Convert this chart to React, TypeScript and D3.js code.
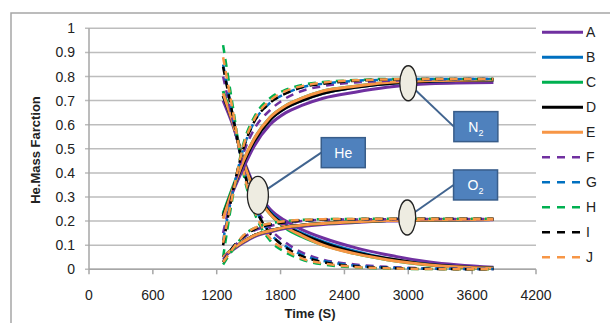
import React from 'react';
import * as d3 from 'd3';

const times = [1260, 1350, 1450, 1550, 1700, 1850, 2000, 2200, 2500, 2800, 3200, 3800];

const seriesNames = ['A', 'B', 'C', 'D', 'E', 'F', 'G', 'H', 'I', 'J'];
const seriesColors = ['#7030A0', '#0070C0', '#00B050', '#000000', '#F79646', '#7030A0', '#0070C0', '#00B050', '#000000', '#F79646'];
const seriesDashed = [false, false, false, false, false, true, true, true, true, true];

// He mass fraction, one row per series A..J
const heFraction = [
  [0.70, 0.60, 0.46, 0.35, 0.25, 0.20, 0.165, 0.13, 0.09, 0.06, 0.03, 0.008],
  [0.72, 0.61, 0.45, 0.34, 0.24, 0.185, 0.15, 0.115, 0.075, 0.045, 0.02, 0.005],
  [0.74, 0.62, 0.45, 0.33, 0.23, 0.17, 0.135, 0.10, 0.065, 0.04, 0.017, 0.004],
  [0.72, 0.61, 0.45, 0.34, 0.235, 0.18, 0.145, 0.11, 0.07, 0.045, 0.02, 0.005],
  [0.73, 0.61, 0.45, 0.33, 0.23, 0.175, 0.14, 0.10, 0.065, 0.04, 0.018, 0.004],
  [0.80, 0.62, 0.42, 0.28, 0.17, 0.11, 0.07, 0.04, 0.02, 0.01, 0.004, 0.001],
  [0.85, 0.64, 0.42, 0.27, 0.15, 0.095, 0.06, 0.035, 0.015, 0.007, 0.003, 0.001],
  [0.93, 0.68, 0.40, 0.24, 0.12, 0.07, 0.04, 0.02, 0.008, 0.003, 0.001, 0],
  [0.84, 0.64, 0.42, 0.27, 0.15, 0.09, 0.055, 0.03, 0.013, 0.006, 0.002, 0],
  [0.88, 0.66, 0.41, 0.25, 0.13, 0.08, 0.045, 0.025, 0.01, 0.004, 0.001, 0],
];

const n2Fraction = [
  [0.22, 0.32, 0.42, 0.51, 0.60, 0.65, 0.68, 0.71, 0.735, 0.755, 0.77, 0.775],
  [0.23, 0.33, 0.44, 0.53, 0.62, 0.67, 0.70, 0.73, 0.755, 0.77, 0.78, 0.785],
  [0.23, 0.34, 0.45, 0.54, 0.63, 0.68, 0.71, 0.74, 0.76, 0.775, 0.783, 0.787],
  [0.22, 0.33, 0.44, 0.53, 0.62, 0.67, 0.70, 0.73, 0.755, 0.77, 0.78, 0.785],
  [0.21, 0.33, 0.45, 0.54, 0.63, 0.68, 0.71, 0.74, 0.76, 0.775, 0.783, 0.787],
  [0.15, 0.32, 0.48, 0.58, 0.66, 0.71, 0.74, 0.76, 0.775, 0.782, 0.787, 0.79],
  [0.12, 0.32, 0.50, 0.61, 0.69, 0.73, 0.755, 0.77, 0.782, 0.787, 0.79, 0.79],
  [0.05, 0.30, 0.52, 0.63, 0.71, 0.745, 0.765, 0.777, 0.785, 0.79, 0.79, 0.79],
  [0.10, 0.32, 0.50, 0.61, 0.69, 0.73, 0.755, 0.77, 0.782, 0.787, 0.79, 0.79],
  [0.11, 0.31, 0.51, 0.62, 0.70, 0.74, 0.76, 0.775, 0.784, 0.788, 0.79, 0.79],
];

const o2Fraction = [
  [0.05, 0.08, 0.11, 0.135, 0.155, 0.17, 0.178, 0.186, 0.194, 0.2, 0.204, 0.206],
  [0.05, 0.085, 0.115, 0.14, 0.16, 0.175, 0.183, 0.19, 0.197, 0.202, 0.205, 0.207],
  [0.05, 0.085, 0.115, 0.14, 0.16, 0.175, 0.183, 0.19, 0.197, 0.202, 0.205, 0.207],
  [0.05, 0.085, 0.115, 0.14, 0.16, 0.175, 0.183, 0.19, 0.197, 0.202, 0.205, 0.207],
  [0.05, 0.085, 0.115, 0.14, 0.16, 0.175, 0.183, 0.19, 0.197, 0.202, 0.205, 0.207],
  [0.04, 0.09, 0.13, 0.16, 0.18, 0.19, 0.2, 0.205, 0.207, 0.208, 0.209, 0.209],
  [0.03, 0.09, 0.135, 0.165, 0.185, 0.195, 0.203, 0.206, 0.208, 0.209, 0.21, 0.21],
  [0.02, 0.08, 0.14, 0.17, 0.19, 0.2, 0.205, 0.208, 0.209, 0.21, 0.21, 0.21],
  [0.03, 0.09, 0.135, 0.165, 0.185, 0.195, 0.203, 0.206, 0.208, 0.209, 0.21, 0.21],
  [0.03, 0.085, 0.14, 0.17, 0.19, 0.2, 0.205, 0.208, 0.209, 0.21, 0.21, 0.21],
];

const yTicks = [0, 0.1, 0.2, 0.3, 0.4, 0.5, 0.6, 0.7, 0.8, 0.9, 1];
const xTicks = [0, 600, 1200, 1800, 2400, 3000, 3600, 4200];

// callouts: ellipse centre and label box centre, in data units
const callouts = [
  { label: 'N', sub: '2', ellipse: [3000, 0.772], rx: 8.5, ry: 17.5, box: [3635, 0.592] },
  { label: 'He', sub: '', ellipse: [1587, 0.307], rx: 10.5, ry: 19, box: [2389, 0.484] },
  { label: 'O', sub: '2', ellipse: [2990, 0.215], rx: 8.5, ry: 17.5, box: [3632, 0.35] },
];

const margin = { left: 89, top: 28.3, right: 74, bottom: 53.7 };
const W = 610;
const H = 323;
const font = '"Liberation Sans", Arial, sans-serif';

const App: React.FC = () => {
  const x = d3.scaleLinear().domain([0, 4200]).range([margin.left, W - margin.right]);
  const y = d3.scaleLinear().domain([0, 1]).range([H - margin.bottom, margin.top]);

  const line = d3
    .line<number>()
    .x((_, i) => x(times[i]))
    .y((d) => y(d))
    .curve(d3.curveMonotoneX);

  const boxW = 44;
  const boxH = 30;

  return (
    <svg width={W} height={H} style={{ position: 'absolute', left: 0, top: 0 }} fontFamily={font}>
      <rect x={0} y={0} width={W} height={H} fill="#fff" />
      <rect x={11} y={13} width={700} height={400} fill="none" stroke="#A6A6A6" strokeWidth={1.5} />

      {yTicks.map((t) => (
        <g key={'y' + t}>
          <line x1={x(0) - 4} x2={x(4200)} y1={y(t)} y2={y(t)} stroke="#BDBDBD" strokeWidth={1.5} />
          <text x={75} y={y(t) + 5} textAnchor="end" fontSize={14} fill="#222">
            {t}
          </text>
        </g>
      ))}
      <line x1={x(0)} x2={x(0)} y1={y(0)} y2={y(1)} stroke="#A6A6A6" strokeWidth={1.5} />
      <line x1={x(0)} x2={x(4200)} y1={y(0)} y2={y(0)} stroke="#A6A6A6" strokeWidth={1.5} />
      {xTicks.map((t) => (
        <g key={'x' + t}>
          <line x1={x(t)} x2={x(t)} y1={y(0)} y2={y(0) + 5} stroke="#A6A6A6" strokeWidth={1.5} />
          <text x={x(t)} y={300} textAnchor="middle" fontSize={14} fill="#222">
            {t}
          </text>
        </g>
      ))}

      <text x={310} y={318} textAnchor="middle" fontSize={13} fontWeight="bold" fill="#222">
        Time (S)
      </text>
      <text
        transform={`translate(40, ${150}) rotate(-90)`}
        textAnchor="middle"
        fontSize={13}
        fontWeight="bold"
        fill="#222"
      >
        He.Mass Farction
      </text>

      {[heFraction, n2Fraction, o2Fraction].map((gas, g) =>
        gas.map((vals, i) => (
          <path
            key={`${g}-${i}`}
            d={line(vals) || ''}
            fill="none"
            stroke={seriesColors[i]}
            strokeWidth={seriesDashed[i] ? 2.5 : 3}
            strokeDasharray={seriesDashed[i] ? '8,6' : undefined}
            strokeLinejoin="round"
          />
        ))
      )}

      {callouts.map((c) => {
        const ex = x(c.ellipse[0]);
        const ey = y(c.ellipse[1]);
        const bx = x(c.box[0]);
        const by = y(c.box[1]);
        return (
          <g key={c.label}>
            <line x1={ex} y1={ey} x2={bx - boxW / 2} y2={by} stroke="#41648F" strokeWidth={2} />
            <ellipse cx={ex} cy={ey} rx={c.rx} ry={c.ry} fill="#EEECE1" stroke="#222" strokeWidth={1.3} />
            <rect
              x={bx - boxW / 2}
              y={by - boxH / 2}
              width={boxW}
              height={boxH}
              fill="#4F81BD"
              stroke="#385D8A"
              strokeWidth={1.5}
            />
            <text x={bx} y={by + 5} textAnchor="middle" fontSize={14} fill="#fff">
              {c.label}
              {c.sub && (
                <tspan fontSize={9} dy={4}>
                  {c.sub}
                </tspan>
              )}
            </text>
          </g>
        );
      })}

      {seriesNames.map((name, i) => {
        const ly = 32.3 + i * 25;
        return (
          <g key={name}>
            <line
              x1={542}
              x2={583}
              y1={ly}
              y2={ly}
              stroke={seriesColors[i]}
              strokeWidth={seriesDashed[i] ? 2.5 : 3}
              strokeDasharray={seriesDashed[i] ? '8,7' : undefined}
            />
            <text x={586} y={ly + 5} fontSize={14} fill="#222">
              {name}
            </text>
          </g>
        );
      })}
    </svg>
  );
};

export default App;
